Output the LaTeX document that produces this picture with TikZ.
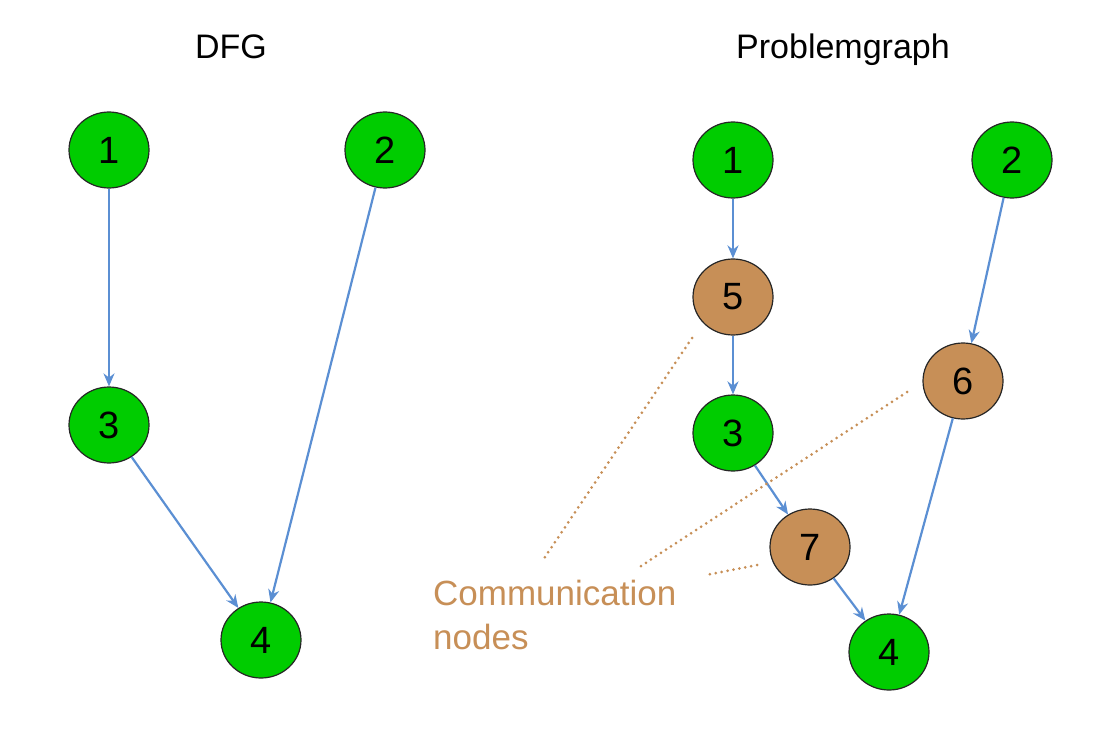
\documentclass[tikz,border=0pt]{standalone}
\usepackage{fontspec}
\setmainfont{Liberation Sans}
\usetikzlibrary{shapes.geometric,arrows.meta}
\definecolor{taskgreen}{HTML}{00CC00}
\definecolor{commtan}{HTML}{C78F57}
\definecolor{edgeblue}{HTML}{5B8FD3}
\tikzset{
  task/.style={ellipse,draw=black!85,line width=1.2pt,fill=taskgreen,minimum width=80pt,minimum height=76pt,inner sep=0pt,font=\fontsize{38}{44}\selectfont},
  comm/.style={task,fill=commtan},
  flow/.style={draw=edgeblue,line width=2.2pt,-{Stealth[length=13pt,width=11pt]}},
  hint/.style={draw=commtan,line width=3pt,line cap=round,dash pattern=on 0pt off 6pt},
  title/.style={font=\fontsize{34}{40}\selectfont}
}
\begin{document}
\begin{tikzpicture}[x=1pt,y=-1pt]
      \useasboundingbox (0,0) rectangle (1100,736);
      \node[title] (dfg) at (231,47) {DFG};
      \node[title] (pg) at (843,50) {Problemgraph};
      % DFG
      \draw
        (109,150) node[task] (d1){1}
        (385,150) node[task] (d2){2}
        (109,425) node[task] (d3){3}
        (261,640) node[task] (d4){4};
      % Problemgraph
      \draw
        (733,160) node[task] (p1){1}
        (1012,160) node[task] (p2){2}
        (733,297) node[comm] (p5){5}
        (963,381) node[comm] (p6){6}
        (733,433) node[task] (p3){3}
        (810,547) node[comm] (p7){7}
        (889,652) node[task] (p4){4};
      \begin{scope}[flow]
        \draw (d1) to (d3);
        \draw (d2) to (d4);
        \draw (d3) to (d4);
        \draw (p1) to (p5);
        \draw (p5) to (p3);
        \draw (p3) to (p7);
        \draw (p7) to (p4);
        \draw (p2) to (p6);
        \draw (p6) to (p4);
      \end{scope}
      \node[anchor=north west,align=left,text=commtan,font=\fontsize{35}{44}\selectfont,inner sep=0pt] (cn) at (433,580) {Communication\\nodes};
      \coordinate (h5) at (692,338);
      \coordinate (h6) at (907,392);
      \coordinate (h7) at (757,565);
      \begin{scope}[hint]
        \draw (h5) -- (543,560);
        \draw (h6) -- (638,568);
        \draw (h7) -- (706,575);
      \end{scope}
    \end{tikzpicture}
\end{document}
